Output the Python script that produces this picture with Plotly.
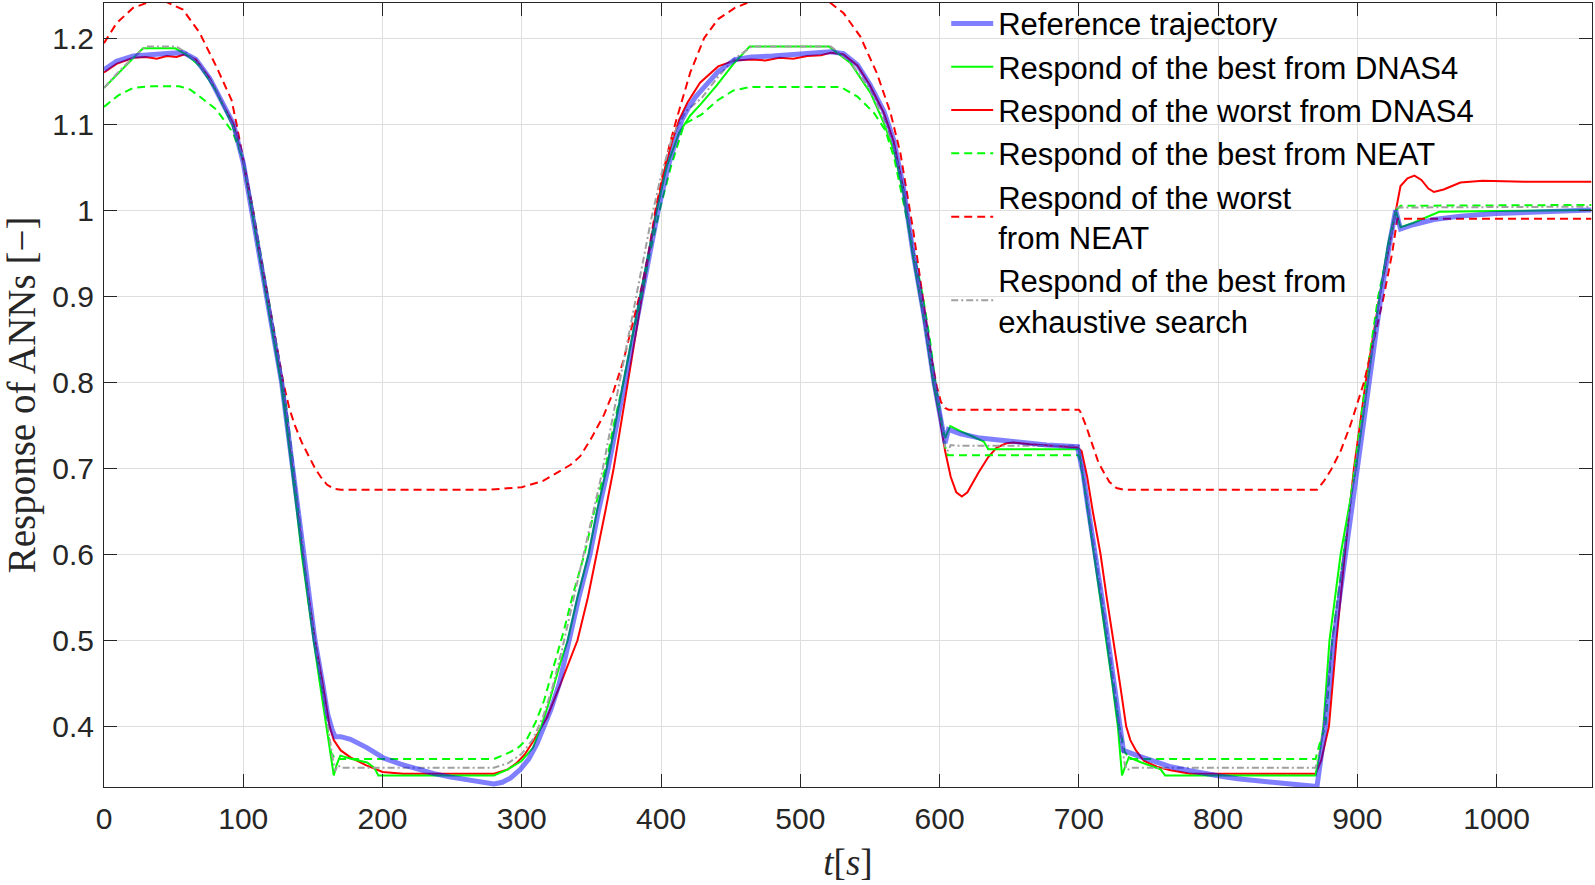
import plotly.graph_objects as go

# ---------------- data (time [s], response [-]) ----------------
ref_pts = [(0,1.163),(9,1.173),(21,1.179),(33,1.181),(45,1.182),(57,1.183),(66,1.175),(76,1.153),(85,1.124),
           (93,1.1),(100,1.055),(106,1.0),(111,0.955),(117,0.9),(122,0.85),(127.5,0.8),(131.5,0.75),(135.5,0.7),
           (139,0.65),(142.6,0.6),(147,0.55),(151.5,0.5),(157,0.45),(160.5,0.415),(164,0.395),(166,0.388),
           (170,0.388),(177,0.385),(189,0.375),(201,0.363),(213,0.356),(225,0.35),(237,0.345),(249,0.341),
           (261,0.338),(273,0.335),(280,0.333),(286,0.335),(292,0.34),(299,0.35),(305,0.362),(311,0.38),
           (316,0.4),(321,0.42),(327,0.45),(334,0.5),(341,0.55),(349,0.6),(355,0.65),(362,0.7),(368,0.75),
           (374,0.8),(380,0.85),(386,0.9),(392,0.95),(398,1.0),(405,1.05),(410,1.08),(415,1.105),(420,1.12),
           (425,1.132),(431,1.143),(441,1.161),(453,1.175),(465,1.178),(480,1.179),(500,1.181),(515,1.182),
           (522,1.184),(531,1.182),(541,1.169),(550,1.146),(556,1.128),(560,1.115),(567,1.082),(574,1.027),
           (581,0.95),(589,0.876),(596,0.8),(600,0.765),(604,0.729),(606.4,0.745),(615,0.74),(629,0.735),
           (653,0.731),(677,0.727),(699,0.725),(703,0.695),(707,0.65),(712,0.6),(716.5,0.55),(721,0.5),
           (725,0.45),(729,0.4),(732,0.372),(742,0.366),(754,0.359),(766,0.353),(778,0.349),(790,0.345),
           (802,0.342),(814,0.339),(827,0.337),(840,0.335),(853,0.333),(865,0.331),(871,0.33),(877,0.4),
           (883,0.5),(891.5,0.6),(900,0.7),(908.4,0.8),(917,0.9),(923,0.96),(927.5,1.0),(931,0.978),
           (940,0.983),(955,0.989),(974,0.993),(1000,0.996),(1030,0.998),(1068,1.0)]

dnas4_best_pts = [(0,1.142),(10,1.158),(20,1.175),(28,1.188),(40,1.188),(51,1.188),(60,1.18),(69,1.167),
           (80,1.14),(92.6,1.097),(100,1.057),(106,1.0),(111,0.955),(117,0.9),(122,0.85),(127,0.8),(131,0.75),
           (135,0.7),(138.5,0.65),(142,0.6),(146,0.55),(150.5,0.5),(155,0.45),(159.5,0.4),(163,0.36),
           (165,0.343),(167,0.355),(169.7,0.366),(178,0.362),(189,0.358),(194,0.352),(197,0.343),(280,0.343),
           (290,0.35),(300,0.36),(308,0.375),(314,0.4),(320,0.43),(327,0.47),(333,0.5),(340,0.55),(348,0.6),
           (354,0.65),(361,0.7),(367,0.75),(373,0.8),(379,0.85),(385,0.9),(391,0.95),(397,1.0),(404,1.05),
           (413,1.09),(421,1.11),(429,1.124),(440,1.145),(452,1.17),(463.6,1.19),(520.7,1.19),(536,1.171),
           (550.5,1.136),(560,1.101),(567,1.07),(574,1.02),(581,0.945),(589,0.87),(596,0.795),(601,0.755),
           (604,0.735),(607.7,0.749),(615,0.743),(625,0.736),(631.7,0.731),(635,0.722),(700,0.722),(703,0.69),
           (707,0.645),(711,0.6),(715.5,0.55),(720,0.5),(724,0.45),(728,0.4),(731,0.343),(733,0.352),
           (736,0.364),(745,0.358),(755,0.352),(758.7,0.35),(762,0.343),(870,0.343),(873,0.37),(875.6,0.4),
           (880,0.5),(888,0.6),(899,0.7),(907.5,0.8),(916,0.9),(922,0.96),(927.5,1.0),(931,0.98),(940,0.985),
           (950,0.992),(958.8,0.998),(1000,0.999),(1068,1.0)]

dnas4_worst_pts = [(0,1.16),(9,1.17),(21,1.177),(30,1.178),(38,1.176),(45,1.179),(52,1.178),(58,1.181),
           (66,1.175),(76,1.153),(85,1.124),(93,1.1),(100,1.056),(106,1.0),(111,0.955),(117,0.9),(122,0.85),
           (127.5,0.8),(131.5,0.75),(135.5,0.7),(139,0.65),(142.6,0.6),(147,0.55),(151.5,0.5),(157,0.45),
           (162,0.4),(165,0.384),(170,0.372),(177,0.364),(188,0.355),(200,0.347),(215,0.345),(280,0.345),
           (290,0.35),(296,0.357),(302,0.367),(308,0.382),(314,0.398),(318,0.41),(328,0.45),(340,0.5),
           (347.5,0.55),(354,0.6),(360,0.65),(366,0.7),(371,0.75),(376,0.8),(381,0.85),(386,0.9),(391,0.95),
           (396.5,1.0),(403,1.05),(408,1.08),(413,1.105),(419,1.125),(428,1.148),(441,1.167),(453,1.174),
           (465,1.175),(475,1.174),(485,1.177),(495,1.176),(505,1.179),(515,1.18),(522,1.183),(531,1.181),
           (541,1.168),(550,1.145),(560,1.113),(567,1.08),(574,1.025),(581,0.948),(589,0.872),(596,0.795),
           (600,0.76),(604,0.72),(608,0.69),(612,0.672),(616,0.667),(620,0.672),(628,0.695),(635,0.713),
           (641,0.724),(648,0.729),(653,0.73),(665,0.728),(680,0.726),(699,0.724),(702,0.72),(706,0.69),
           (710,0.65),(715.6,0.6),(720,0.55),(725,0.5),(729.5,0.45),(734,0.4),(737,0.384),(741,0.372),
           (746.7,0.36),(756,0.353),(766,0.349),(780,0.345),(870,0.345),(874,0.36),(877,0.38),(879.6,0.4),
           (885,0.5),(891,0.6),(897.6,0.7),(906,0.8),(916,0.9),(927.5,1.0),(931,1.028),(936,1.037),
           (941,1.04),(946,1.035),(951,1.025),(955,1.021),(962,1.024),(974,1.032),(990,1.034),(1020,1.033),
           (1068,1.033)]

neat_best_pts = [(0,1.12),(10,1.133),(20.8,1.142),(32.8,1.144),(54,1.144),(62,1.14),(68.7,1.132),
           (80.6,1.117),(92.6,1.09),(100,1.058),(107,1.0),(112.5,0.95),(118,0.9),(123,0.85),(128.5,0.8),
           (132.5,0.75),(136,0.7),(139.5,0.65),(142.5,0.6),(146.5,0.55),(151,0.5),(155.5,0.45),(160,0.4),
           (163,0.37),(166,0.362),(280,0.362),(291.6,0.37),(298,0.376),(303.6,0.385),(310,0.405),(316,0.43),
           (323,0.47),(330,0.51),(337,0.555),(345,0.6),(352,0.65),(360,0.7),(366,0.75),(373,0.8),(379,0.85),
           (386,0.9),(392,0.95),(399,1.0),(407,1.05),(416.6,1.1),(429,1.111),(441,1.128),(452,1.139),
           (463.6,1.143),(529,1.143),(541,1.132),(552.9,1.113),(561,1.093),(567.5,1.06),(575,1.0),
           (581.5,0.95),(588,0.9),(593,0.85),(597,0.8),(601,0.76),(604,0.725),(606,0.715),(700,0.715),
           (703,0.69),(707,0.645),(711,0.6),(716,0.55),(720,0.5),(725,0.45),(729,0.4),(733,0.37),(737,0.362),
           (870,0.362),(873,0.38),(877,0.4),(882,0.5),(890,0.6),(898,0.7),(906,0.8),(915,0.9),(924,0.97),
           (928,1.0),(931,1.005),(1068,1.006)]

neat_worst_pts = [(0,1.194),(8.9,1.217),(20.8,1.235),(32.8,1.242),(44.7,1.242),(56.7,1.233),(68.7,1.206),
           (80.6,1.167),(91.6,1.128),(95.2,1.1),(101,1.05),(107,1.0),(112,0.95),(117.5,0.9),(123,0.85),
           (128.7,0.8),(133,0.77),(137,0.75),(142,0.73),(147,0.715),(151.5,0.7),(156,0.689),(160,0.681),
           (165,0.676),(170,0.675),(277,0.675),(300,0.678),(315,0.685),(325,0.694),(335,0.704),(342,0.714),
           (350,0.735),(359,0.762),(366,0.79),(373,0.825),(380,0.87),(386,0.91),(391,0.95),(396,1.0),
           (401,1.04),(406,1.075),(411,1.105),(421,1.16),(431,1.2),(441,1.222),(453,1.235),(463.6,1.242),
           (520.7,1.242),(531,1.229),(543,1.202),(555,1.159),(564.8,1.113),(571.9,1.066),(581.4,0.973),
           (588,0.9),(594,0.83),(598,0.795),(601,0.777),(604,0.77),(606.4,0.768),(700,0.768),(701,0.766),
           (705,0.75),(710,0.725),(714,0.707),(718,0.695),(722,0.684),(727,0.677),(732,0.675),(871,0.675),
           (876,0.685),(881,0.698),(888,0.72),(895,0.75),(900,0.775),(904.8,0.8),(912,0.85),(919,0.9),
           (925,0.95),(928.7,0.99),(1068,0.99)]

exhaustive_pts = [(0,1.142),(10,1.16),(20,1.176),(30,1.19),(52,1.19),(60,1.182),(69,1.168),(80,1.142),
           (92,1.1),(100,1.06),(107,1.0),(112,0.95),(117.5,0.9),(123,0.85),(128.5,0.8),(132.5,0.75),(136,0.7),
           (139.5,0.65),(143,0.6),(147,0.55),(151.5,0.5),(156,0.45),(160.5,0.4),(164,0.365),(166,0.348),
           (168,0.355),(170,0.352),(280,0.352),(290,0.357),(300,0.368),(308,0.385),(315,0.41),(322,0.445),
           (329,0.49),(336,0.54),(343,0.59),(350,0.64),(357,0.69),(363,0.74),(369,0.79),(375,0.84),(381,0.89),
           (387,0.94),(393,0.99),(400,1.04),(408,1.085),(418,1.115),(429,1.13),(441,1.155),(452,1.175),
           (465,1.19),(522,1.19),(536,1.172),(550,1.14),(560,1.105),(567,1.074),(575,1.02),(582,0.945),
           (589,0.87),(597,0.795),(601,0.76),(604,0.725),(606,0.72),(608,0.727),(612,0.726),(700,0.726),
           (703,0.695),(707,0.65),(712,0.6),(716.5,0.55),(721,0.5),(725,0.45),(729,0.4),(733,0.355),
           (735,0.349),(737,0.352),(870,0.352),(873,0.37),(876,0.4),(882,0.5),(890,0.6),(898.5,0.7),
           (907,0.8),(916,0.9),(923,0.96),(928,1.003),(1068,1.004)]

x_ticks = [0, 100, 200, 300, 400, 500, 600, 700, 800, 900, 1000]
y_ticks = [0.4, 0.5, 0.6, 0.7, 0.8, 0.9, 1.0, 1.1, 1.2]
names = ["Reference trajectory",
         "Respond of the best from DNAS4",
         "Respond of the worst from DNAS4",
         "Respond of the best from NEAT",
         "Respond of the worst<br>from NEAT",
         "Respond of the best from<br>exhaustive search"]

def xy(pts):
    return [p[0] for p in pts], [p[1] for p in pts]

fig = go.Figure()

# drawing order: reference last (on top); legend order by legendrank
series = [
    (dnas4_worst_pts, names[2], dict(color="#ff0000", width=2, dash="solid"), 3),
    (dnas4_best_pts, names[1], dict(color="#00ff00", width=2, dash="solid"), 2),
    (neat_best_pts, names[3], dict(color="#00ff00", width=2, dash="8px,5px"), 4),
    (neat_worst_pts, names[4], dict(color="#ff0000", width=2, dash="8px,5px"), 5),
    (exhaustive_pts, names[5], dict(color="#a0a0a0", width=2, dash="7px,3px,2px,3px"), 6),
    (ref_pts, names[0], dict(color="rgba(0,0,255,0.5)", width=5, dash="solid"), 1),
]
for pts, nm, ln, rank in series:
    x, y = xy(pts)
    fig.add_trace(go.Scatter(x=x, y=y, mode="lines", name=nm, line=ln,
                             legendrank=rank, cliponaxis=True))

axis_col = "#262626"
common = dict(showline=True, linecolor=axis_col, linewidth=1, mirror="allticks",
              ticks="inside", ticklen=13, tickwidth=1, tickcolor=axis_col,
              showgrid=True, gridcolor="#dedede", gridwidth=1, zeroline=False,
              tickfont=dict(family="Arial", size=30, color=axis_col))

fig.update_layout(
    width=1595, height=885,
    margin=dict(l=104, r=3, t=3, b=98, autoexpand=False),
    paper_bgcolor="white", plot_bgcolor="white",
    showlegend=True,
    legend=dict(x=0.566, y=1.008, xanchor="left", yanchor="top",
                bgcolor="rgba(0,0,0,0)", borderwidth=0,
                font=dict(family="Arial", size=31, color="black"),
                itemwidth=42, tracegroupgap=0, traceorder="normal"),
    xaxis=dict(range=[0, 1068.5], tickvals=x_ticks, ticklabelstandoff=5,
               title=dict(text="<i>t</i>[<i>s</i>]", standoff=15,
                          font=dict(family="Liberation Serif", size=37, color=axis_col)),
               **common),
    yaxis=dict(range=[0.3295, 1.2407], tickvals=y_ticks, ticklabelstandoff=3,
               title=dict(text="Response of ANNs [\u2212]", standoff=5,
                          font=dict(family="Liberation Serif", size=39, color=axis_col)),
               **common),
)

fig.write_html("out.html", config={"displayModeBar": False},
               post_script="document.body.style.margin='0px';document.body.style.overflow='hidden';")
